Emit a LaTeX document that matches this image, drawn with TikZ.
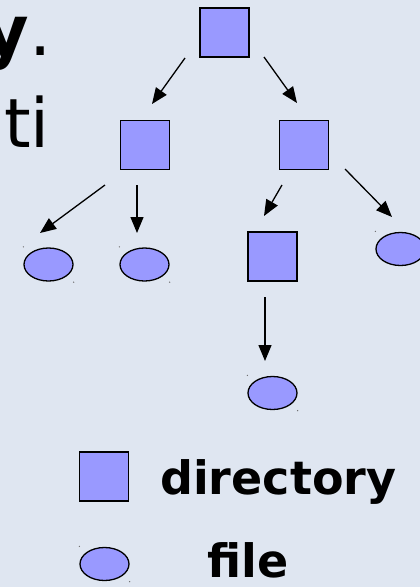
\documentclass[tikz,border=0pt]{standalone}
\usepackage{fontspec}
\setmainfont{DejaVu Sans}
\usetikzlibrary{arrows.meta,shapes.geometric}
\definecolor{bg}{RGB}{223,230,241}
\definecolor{fillb}{RGB}{153,153,255}
\tikzset{
  dirbox/.style={draw=black, fill=fillb, line width=1.3pt, minimum size=49pt, inner sep=0pt},
  filebox/.style={draw=black, fill=fillb, line width=1.3pt, ellipse, minimum width=49pt, minimum height=33pt, inner sep=0pt},
  arr/.style={line width=1.3pt, -{Triangle[length=16pt,width=13pt]}},
  handle/.style={fill=black!60},
  legend/.style={font=\fontsize{46}{46}\selectfont\bfseries, inner sep=0pt, anchor=base west}
}
\begin{document}
\begin{tikzpicture}[x=1pt,y=-1pt]
\useasboundingbox[fill=bg] (0,0) rectangle (420,587);
\begin{scope}
\clip (0,0) rectangle (420,587);
\node[font=\fontsize{70}{70}\selectfont, inner sep=0pt, anchor=base east] (ty) at (52,55) {\textbf{y}.};
\node[font=\fontsize{68}{68}\selectfont, inner sep=0pt, anchor=base east] (tti) at (50,147) {ti};
\node[filebox] (f3) at (400.5,249) {};
\fill[handle] (f3.west |- f3.north) ++(0,-0.5) circle (0.7);
\end{scope}
% tree
\node[dirbox] (root) at (224.5,32.5) {};
\node[dirbox] (l) at (145,145) {};
\node[dirbox] (r) at (304,145) {};
\node[dirbox] (rl) at (272.5,256.5) {};
\node[filebox] (f1) at (48.5,264.5) {};
\node[filebox] (f2) at (144.5,264.5) {};
\node[filebox] (f4) at (272.5,393) {};
\foreach \e in {f1,f2,f4}{
  \fill[handle] (\e.west |- \e.north) ++(0,-0.5) circle (0.7);
  \fill[handle] (\e.east |- \e.south) ++(0,0.5) circle (0.7);
}
\coordinate (a1s) at (185,58);  \coordinate (a1e) at (152,104);
\coordinate (a2s) at (264,57);  \coordinate (a2e) at (297,103);
\coordinate (a3s) at (105,185); \coordinate (a3e) at (40,233);
\coordinate (a4s) at (137,185); \coordinate (a4e) at (137,233);
\coordinate (a5s) at (282,185); \coordinate (a5e) at (264,216);
\coordinate (a6s) at (345,169); \coordinate (a6e) at (392,217);
\coordinate (a7s) at (265,297); \coordinate (a7e) at (265,361);
\draw[arr] (a1s) -- (a1e);
\draw[arr] (a2s) -- (a2e);
\draw[arr] (a3s) -- (a3e);
\draw[arr] (a4s) -- (a4e);
\draw[arr] (a5s) -- (a5e);
\draw[arr] (a6s) -- (a6e);
\draw[arr] (a7s) -- (a7e);
% legend
\node[dirbox] (ld) at (104,476.5) {};
\node[filebox] (lf) at (104.5,564) {};
\fill[handle] (lf.west |- lf.north) ++(0,-0.5) circle (0.7);
\fill[handle] (lf.east |- lf.south) ++(0,0.5) circle (0.7);
\node[legend] (tdir) at (160,494) {directory};
\node[legend] (tfile) at (207,577) {file};
\end{tikzpicture}
\end{document}
